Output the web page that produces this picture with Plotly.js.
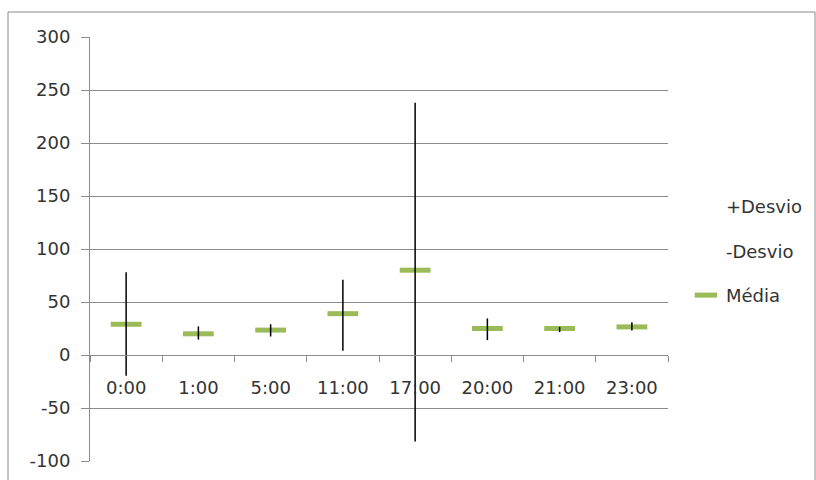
<!DOCTYPE html>
<html>
<head>
<meta charset="utf-8">
<script src="https://cdn.plot.ly/plotly-3.0.1.min.js"></script>
<style>
  html, body { margin: 0; padding: 0; background: #ffffff; }
  #chart { width: 816px; height: 480px; }
</style>
</head>
<body>
<div id="chart"></div>
<script>
// Categories (time of day)
const categories = ['0:00', '1:00', '5:00', '11:00', '17:00', '20:00', '21:00', '23:00'];
// Series values
const mediaValues = [29, 20, 23.5, 39, 80, 25, 25, 26.5];
const desvioPlus  = [78, 27, 29, 71, 238, 34.5, 26.5, 31];
const desvioMinus = [-19.5, 14.5, 17.5, 4, -81.5, 14, 21.5, 23];
// Y tick values
const yTicks = [-100, -50, 0, 50, 100, 150, 200, 250, 300];

const textColor = '#333333';
const gridColor = '#8c8c8c';
const fontFamily = '"DejaVu Sans", Verdana, sans-serif';

// High-low line segments built from the +Desvio / -Desvio series
const hlX = [], hlY = [];
categories.forEach((c, i) => {
  hlX.push(c, c, null);
  hlY.push(desvioPlus[i], desvioMinus[i], null);
});

const traces = [
  {
    name: '+Desvio', x: categories, y: desvioPlus, type: 'scatter', mode: 'markers',
    marker: { color: 'rgba(0,0,0,0)', size: 1 }, legendgroup: 'a', hoverinfo: 'skip'
  },
  {
    name: '-Desvio', x: categories, y: desvioMinus, type: 'scatter', mode: 'markers',
    marker: { color: 'rgba(0,0,0,0)', size: 1 }, legendgroup: 'b', hoverinfo: 'skip'
  },
  {
    name: 'Média', x: categories, y: mediaValues, type: 'scatter', mode: 'markers',
    marker: { symbol: 'line-ew', size: 22, color: '#9bbb59', line: { color: '#9bbb59', width: 5 } },
    legendgroup: 'c'
  },
  {
    x: hlX, y: hlY, type: 'scatter', mode: 'lines', showlegend: false,
    line: { color: '#000000', width: 1.5 }, hoverinfo: 'skip', connectgaps: false
  }
];

const layout = {
  width: 816, height: 480,
  margin: { l: 90, r: 148, t: 37, b: 19, pad: 0, autoexpand: false },
  paper_bgcolor: '#ffffff', plot_bgcolor: '#ffffff',
  font: { family: fontFamily, size: 18, color: textColor },
  showlegend: true,
  legend: {
    x: 1.031, xanchor: 'left', y: 0.495, yanchor: 'middle',
    traceorder: 'grouped', tracegroupgap: 18, itemwidth: 30,
    font: { family: fontFamily, size: 18, color: textColor },
    bgcolor: 'rgba(0,0,0,0)'
  },
  xaxis: {
    type: 'category', categoryorder: 'array', categoryarray: categories,
    range: [-0.5, categories.length - 0.5],
    anchor: 'free', position: 0.25,
    showgrid: false, zeroline: false,
    showline: true, linecolor: gridColor, linewidth: 1,
    ticks: 'outside', tickson: 'boundaries', ticklen: 6, tickcolor: gridColor,
    ticklabelstandoff: 16,
    tickfont: { family: fontFamily, size: 18, color: textColor },
    fixedrange: true
  },
  yaxis: {
    range: [-100, 300], tickvals: yTicks, ticktext: yTicks.map(String),
    showgrid: true, gridcolor: gridColor, gridwidth: 1,
    zeroline: false,
    showline: true, linecolor: gridColor, linewidth: 1,
    ticks: 'outside', ticklen: 8, tickcolor: gridColor,
    ticklabelstandoff: 7,
    tickfont: { family: fontFamily, size: 18, color: textColor },
    fixedrange: true
  },
  shapes: [
    {
      type: 'rect', xref: 'paper', yref: 'paper',
      x0: (8 - 90) / 578, x1: (815 - 90) / 578,
      y0: -0.1, y1: (461 - 12) / 424,
      line: { color: '#8a8a8a', width: 1 }, fillcolor: 'rgba(0,0,0,0)', layer: 'below'
    }
  ]
};

Plotly.newPlot('chart', traces, layout, { displayModeBar: false, staticPlot: true });
</script>
</body>
</html>
